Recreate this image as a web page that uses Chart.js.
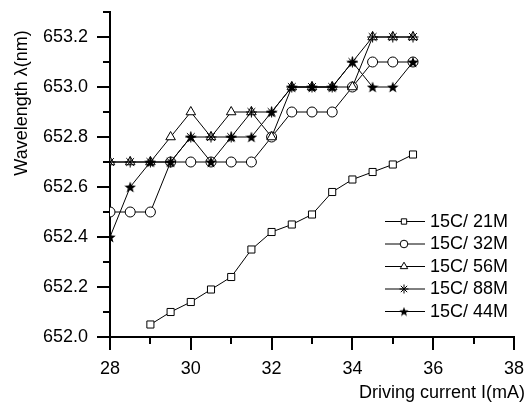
<!DOCTYPE html>
<html lang="en">
<head>
  <meta charset="UTF-8">
  <title>Wavelength vs driving current</title>
  <script src="https://cdn.jsdelivr.net/npm/chart.js"></script>
  <style>
    html, body { margin: 0; padding: 0; background: #fff; }
    #chartBox { width: 528px; height: 406px; }
  </style>
</head>
<body>
  <div id="chartBox"><canvas id="waveChart"></canvas></div>

  <script>
    // driving current (mA), one reading every 0.5 mA
    const current = [28, 28.5, 29, 29.5, 30, 30.5, 31, 31.5, 32, 32.5, 33, 33.5, 34, 34.5, 35, 35.5];

    // wavelength (nm) for each sample
    const wl21M = [null, null, 652.05, 652.10, 652.14, 652.19, 652.24, 652.35, 652.42, 652.45, 652.49, 652.58, 652.63, 652.66, 652.69, 652.73];
    const wl32M = [652.5, 652.5, 652.5, 652.7, 652.7, 652.7, 652.7, 652.7, 652.8, 652.9, 652.9, 652.9, 653.0, 653.1, 653.1, 653.1];
    const wl56M = [652.7, 652.7, 652.7, 652.8, 652.9, 652.8, 652.9, 652.9, 652.8, 653.0, 653.0, 653.0, 653.0, 653.2, 653.2, 653.2];
    const wl88M = [652.7, 652.7, 652.7, 652.7, 652.8, 652.8, 652.8, 652.9, 652.9, 653.0, 653.0, 653.0, 653.1, 653.2, 653.2, 653.2];
    const wl44M = [652.4, 652.6, 652.7, 652.7, 652.8, 652.7, 652.8, 652.8, 652.9, 653.0, 653.0, 653.0, 653.1, 653.0, 653.0, 653.1];

    const seriesNames = ['15C/ 21M', '15C/ 32M', '15C/ 56M', '15C/ 88M', '15C/ 44M'];

    const FONT = '"Liberation Sans", Arial, sans-serif';

    // filled five point star, used as a point image
    function makeStar(size) {
      const c = document.createElement('canvas');
      c.width = size; c.height = size;
      const g = c.getContext('2d');
      const cx = size / 2, cy = size / 2 + size * 0.05;
      const ro = size / 2, ri = ro * 0.42;
      g.beginPath();
      for (let i = 0; i < 10; i++) {
        const r = i % 2 === 0 ? ro : ri;
        const a = -Math.PI / 2 + i * Math.PI / 5;
        g.lineTo(cx + r * Math.cos(a), cy + r * Math.sin(a));
      }
      g.closePath();
      g.fillStyle = '#000';
      g.fill();
      return c;
    }
    const starBig = makeStar(12);
    const starSmall = makeStar(10);

    const styles = [
      { pointStyle: 'rect', radius: 5, legendStyle: 'rect', legendRadius: 3.8 },
      { pointStyle: 'circle', radius: 5, legendStyle: 'circle', legendRadius: 3.8 },
      { pointStyle: 'triangle', radius: 5.5, legendStyle: 'triangle', legendRadius: 4.3 },
      { pointStyle: 'star', radius: 5.5, legendStyle: 'star', legendRadius: 4.5 },
      { pointStyle: starBig, radius: 6, legendStyle: starSmall, legendRadius: 5 }
    ];

    const allSeries = [wl21M, wl32M, wl56M, wl88M, wl44M];

    const datasets = allSeries.map((vals, i) => ({
      label: seriesNames[i],
      data: current.map((x, k) => ({ x: x, y: vals[k] })),
      borderColor: '#000',
      borderWidth: 1,
      pointStyle: styles[i].pointStyle,
      pointRadius: styles[i].radius,
      pointHoverRadius: styles[i].radius,
      pointBackgroundColor: '#fff',
      pointBorderColor: '#000',
      pointBorderWidth: 1,
      fill: false,
      spanGaps: false,
      tension: 0,
      order: 4 - i,   // later series sit on top
      clip: { left: 0, top: false, right: false, bottom: false }
    }));

    // ticks, axis titles and the legend
    const decor = {
      id: 'decor',
      afterDraw(chart) {
        const ctx = chart.ctx;
        const xs = chart.scales.x, ys = chart.scales.y;
        const area = chart.chartArea;
        ctx.save();
        ctx.strokeStyle = '#000';
        ctx.lineWidth = 2;
        xs.ticks.forEach(t => {
          const px = Math.round(xs.getPixelForValue(t.value));
          const len = Math.round(t.value) % 2 === 0 ? 13 : 7;
          ctx.beginPath();
          ctx.moveTo(px, area.bottom);
          ctx.lineTo(px, area.bottom + len);
          ctx.stroke();
        });
        ys.ticks.forEach(t => {
          const py = Math.round(ys.getPixelForValue(t.value));
          const len = Math.round(t.value * 10) % 2 === 0 ? 13 : 7;
          ctx.beginPath();
          ctx.moveTo(area.left, py);
          ctx.lineTo(area.left - len, py);
          ctx.stroke();
        });

        // axis titles
        ctx.fillStyle = '#000';
        ctx.font = '18px ' + FONT;
        ctx.textAlign = 'right';
        ctx.textBaseline = 'middle';
        ctx.fillText('Driving current I(mA)', 525, 393);
        ctx.save();
        ctx.translate(22, 103);
        ctx.rotate(-Math.PI / 2);
        ctx.textAlign = 'center';
        ctx.fillText('Wavelength \u03bb(nm)', 0, 0);
        ctx.restore();

        // legend
        const lx = 385, ly = 221, step = 22.5;
        seriesNames.forEach((name, i) => {
          const y = ly + i * step;
          ctx.lineWidth = 1;
          ctx.beginPath();
          ctx.moveTo(lx, y + 0.5);
          ctx.lineTo(lx + 40, y + 0.5);
          ctx.stroke();
          ctx.fillStyle = '#fff';
          ctx.strokeStyle = '#000';
          Chart.helpers.drawPoint(ctx, {
            pointStyle: styles[i].legendStyle,
            radius: styles[i].legendRadius,
            rotation: 0,
            borderWidth: 1
          }, lx + 19, y + 0.5);
          ctx.fillStyle = '#000';
          ctx.textAlign = 'left';
          ctx.textBaseline = 'middle';
          ctx.fillText(name, lx + 45, y + 1);
        });
        ctx.restore();
      }
    };

    new Chart(document.getElementById('waveChart'), {
      type: 'line',
      data: { datasets: datasets },
      options: {
        responsive: true,
        maintainAspectRatio: false,
        animation: false,
        layout: { padding: { top: 12, right: 14, left: 0, bottom: 0 } },
        plugins: {
          legend: { display: false },
          tooltip: { enabled: false }
        },
        scales: {
          x: {
            type: 'linear',
            min: 28,
            max: 38,
            afterFit: (s) => { s.height = 69; },
            grid: { drawOnChartArea: false, drawTicks: true, tickLength: 21, tickColor: 'rgba(0,0,0,0)' },
            border: { display: true, color: '#000', width: 2 },
            ticks: {
              stepSize: 1,
              padding: 0,
              color: '#000',
              font: { family: FONT, size: 18 },
              maxRotation: 0,
              autoSkip: false,
              callback: (v) => (Math.round(v) % 2 === 0 ? String(v) : '')
            }
          },
          y: {
            min: 652.0,
            max: 653.3,
            afterFit: (s) => { s.width = 110; },
            grid: { drawOnChartArea: false, drawTicks: true, tickLength: 22, tickColor: 'rgba(0,0,0,0)' },
            border: { display: true, color: '#000', width: 2 },
            ticks: {
              stepSize: 0.1,
              padding: 0,
              color: '#000',
              font: { family: FONT, size: 18 },
              autoSkip: false,
              callback: (v) => (Math.round(v * 10) % 2 === 0 ? Number(v).toFixed(1) : '')
            }
          }
        }
      },
      plugins: [decor]
    });
  </script>
</body>
</html>
